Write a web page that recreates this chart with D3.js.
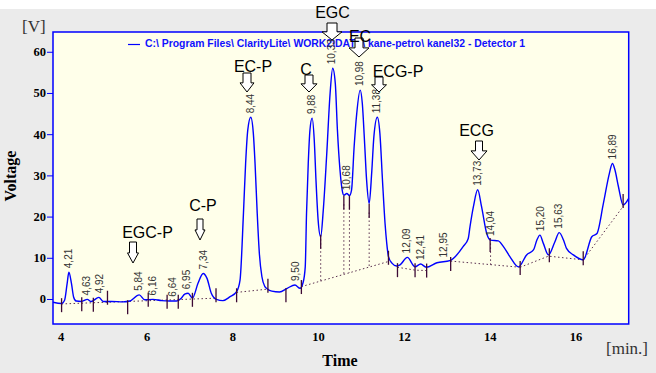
<html>
<head>
<script src="https://cdnjs.cloudflare.com/ajax/libs/d3/7.8.5/d3.min.js"></script>
<style>
  body { margin: 0; background: #ebebeb; }
  svg { display: block; }
</style>
</head>
<body>
<svg id="chart" width="656" height="373"></svg>
<script>
// detector trace: time [min] and signal [V]
var traceTime = [3.82, 4.02, 4.09, 4.15, 4.19, 4.25, 4.30, 4.36, 4.48, 4.62, 4.71, 4.89, 4.99, 5.18, 5.45, 5.61, 5.83, 5.96,
  6.15, 6.35, 6.54, 6.70, 6.81, 6.89, 6.97, 7.07, 7.20, 7.32, 7.41, 7.51, 7.63, 7.78, 7.94, 8.10, 8.18, 8.26, 8.31, 8.36,
  8.43, 8.49, 8.53, 8.58, 8.63, 8.69, 8.76, 8.81, 8.92, 9.10, 9.28, 9.46, 9.58, 9.65, 9.70, 9.73, 9.77, 9.81, 9.86, 9.91,
  9.95, 10.00, 10.06, 10.12, 10.20, 10.28, 10.34, 10.40, 10.45, 10.51, 10.56, 10.60, 10.67, 10.73, 10.78, 10.84, 10.90,
  10.98, 11.03, 11.08, 11.13, 11.19, 11.25, 11.30, 11.38, 11.44, 11.50, 11.56, 11.60, 11.64, 11.72, 11.83, 11.91, 12.08,
  12.26, 12.39, 12.52, 12.77, 13.07, 13.38, 13.50, 13.54, 13.62, 13.72, 13.81, 13.93, 14.02, 14.20, 14.32, 14.47, 14.67,
  14.86, 15.02, 15.10, 15.17, 15.25, 15.37, 15.52, 15.62, 15.72, 15.79, 15.95, 16.18, 16.38, 16.50, 16.65, 16.79, 16.86,
  16.92, 17.00, 17.11, 17.24];
var traceVolt = [-0.8, -1.1, -0.3, 3.8, 6.5, 3.8, 0.5, -0.5, -0.6, -0.1, -0.6, 0.4, -0.6, -0.6, -0.7, -0.5, 1.0, -0.2,
  -0.1, -0.4, -0.5, -0.5, 0.2, 1.2, 1.4, 0.2, 3.8, 6.2, 5.0, 1.4, -0.1, -0.4, 0.5, 1.8, 4.6, 20.9, 32.9, 41.0,
  44.1, 40.2, 32.9, 20.9, 11.1, 5.4, 3.0, 2.5, 1.9, 1.7, 2.6, 3.4, 2.6, 4.0, 7.8, 20.8, 32.9, 41.0, 43.9, 38.6,
  28.9, 19.2, 15.1, 21.5, 35.0, 50.0, 56.0, 52.4, 41.0, 31.3, 26.5, 25.2, 25.6, 25.1, 26.5, 37.0, 45.0,
  50.7, 47.5, 38.6, 28.9, 23.2, 30.8, 39.4, 44.1, 40.2, 28.9, 18.4, 13.5, 10.3, 8.7, 8.0, 8.3, 10.1,
  7.8, 8.5, 7.7, 8.8, 9.3, 12.7, 14.7, 17.5, 22.4, 26.5, 22.4, 15.9, 14.3, 14.1, 12.7, 10.3, 7.8,
  10.7, 11.9, 14.3, 15.5, 13.5, 10.7, 13.9, 16.1, 14.3, 12.3, 10.7, 9.5, 15.1, 15.9, 23.2, 30.5, 32.9,
  31.3, 27.3, 22.8, 24.4];

// integrated peaks: retention time and apex height
var peakTimes = [4.21, 4.63, 4.92, 5.84, 6.16, 6.64, 6.95, 7.34, 8.44, 9.50, 9.88, 10.33, 10.68, 10.98, 11.38,
  12.09, 12.41, 12.95, 13.73, 14.04, 15.20, 15.63, 16.89];
var peakHeights = [6.5, -0.1, 0.4, 1.0, -0.1, -0.4, 1.4, 6.2, 44.1, 3.4, 43.9, 56.0, 25.4, 50.7, 44.1,
  10.1, 8.5, 9.1, 26.5, 14.3, 15.5, 16.1, 32.9];

// peak start / end marks
var markTimes = [4.02, 4.49, 4.76, 5.09, 5.56, 6.04, 6.48, 6.74, 7.07, 7.62, 8.10, 8.83, 9.25, 9.61, 10.06, 10.60, 10.73,
  11.19, 11.64, 11.85, 12.26, 12.53, 13.09, 14.01, 14.71, 15.39, 16.18, 17.11];
var markVolts = [-1.5, -1.3, -1.4, 0.3, -2.0, -0.2, -0.7, -0.7, -0.2, 0.9, 0.9, 3.2, 0.9, 2.9, 13.9, 23.4, 23.4,
  21.4, 10.0, 7.0, 7.0, 6.9, 8.5, 13.1, 7.5, 10.6, 9.9, 23.8];

// baseline pieces
var baselines = [
  [[4.02, -1.2], [5.56, -0.6], [7.62, 0.2]],
  [[8.10, 1.6], [8.83, 2.4]],
  [[9.61, 3.0], [11.64, 9.1]],
  [[11.85, 7.7], [12.26, 7.0], [12.53, 6.9]],
  [[13.09, 9.2], [14.71, 7.7]],
  [[14.71, 7.7], [15.37, 10.4], [16.18, 9.5], [17.12, 22.6]]
];
// drop lines: time, top, bottom
var drops = [[10.06, 14.5, 4.3], [10.60, 23.0, 6.0], [10.73, 23.0, 6.4], [11.19, 21.0, 7.7], [14.02, 13.5, 8.3]];

var compounds = ["EGC-P", "C-P", "EC-P", "C", "EGC", "EC", "ECG-P", "ECG"];

var xTicks = [4, 6, 8, 10, 12, 14, 16];
var yTicks = [0, 10, 20, 30, 40, 50, 60];

var legendText = "C:\\ Program Files\\ ClarityLite\\ WORK2\\DATA\\ kane-petro\\ kanel32 - Detector 1";

// ---- layout ----
var L = 53, R = 628.7, T = 32, B = 324;
// label text (x, baseline) and arrow (cx, top, bottom, shaft w, head w)
var compoundPos = {
  "EGC-P": [147.5, 238, 133, 242, 263, 7, 11],
  "C-P":   [203, 211, 200, 219, 240, 6, 10],
  "EC-P":  [253, 71.5, 247, 73, 92, 8, 14],
  "C":     [306, 75, 309, 75, 92, 8, 16],
  "EGC":   [332.5, 18, 332, 23, 40, 10, 20],
  "EC":    [360, 41.5, 359, 38, 57, 8, 20],
  "ECG-P": [398, 77, 379, 77, 92, 8, 15],
  "ECG":   [476.5, 136, 479, 141, 160, 7, 16]
};

var svg = d3.select("#chart");
var x = d3.scaleLinear().domain([3.82, 17.24]).range([L, R]);
var y = d3.scaleLinear().domain([-6.07, 64.8]).range([B, T]);

svg.append("rect").attr("width", 656).attr("height", 9).attr("fill", "#ffffff");
svg.append("rect").attr("x", L).attr("y", T).attr("width", R - L).attr("height", B - T).attr("fill", "#ffffea");

// legend
svg.append("line").attr("x1", 128).attr("x2", 140).attr("y1", 44.5).attr("y2", 44.5)
  .attr("stroke", "#0000ff").attr("stroke-width", 1.2);
svg.append("text").attr("x", 145).attr("y", 46.5).text(legendText)
  .style("font-family", "Liberation Sans, Arial, sans-serif").style("font-weight", "bold")
  .style("font-size", "10.4px").attr("fill", "#1010ff");

var markColor = "#3d0a35";

// baselines and drop lines
var bl = d3.line().x(d => x(d[0])).y(d => y(d[1]));
svg.selectAll(".base").data(baselines).enter().append("path")
  .attr("d", bl).attr("fill", "none").attr("stroke", "#5a3050")
  .attr("stroke-width", 1).attr("stroke-dasharray", "1.5,2.5");
svg.selectAll(".drop").data(drops).enter().append("line")
  .attr("x1", d => x(d[0])).attr("x2", d => x(d[0]))
  .attr("y1", d => y(d[1])).attr("y2", d => y(d[2]))
  .attr("stroke", "#5a3050").attr("stroke-width", 1).attr("stroke-dasharray", "1.5,2.5");

// trace
var trace = traceTime.map((t, i) => [t, traceVolt[i]]);
svg.append("path").datum(trace)
  .attr("d", d3.line().x(d => x(d[0])).y(d => y(d[1])).curve(d3.curveMonotoneX))
  .attr("fill", "none").attr("stroke", "#0000ff").attr("stroke-width", 1.4);

// marks
svg.selectAll(".mark").data(markTimes).enter().append("line")
  .attr("x1", d => x(d)).attr("x2", d => x(d))
  .attr("y1", (d, i) => y(markVolts[i]) - 7).attr("y2", (d, i) => y(markVolts[i]) + 7)
  .attr("stroke", markColor).attr("stroke-width", 1.3);

// retention time labels
svg.selectAll(".rt").data(peakTimes).enter().append("text")
  .attr("transform", (d, i) => "translate(" + (x(d) + 2.5) + "," + (y(peakHeights[i]) - 4) + ") rotate(-90)")
  .text(d => d.toFixed(2).replace(".", ","))
  .style("font-family", "Liberation Sans, Arial, sans-serif").style("font-size", "10px").attr("fill", "#333");

// frame
svg.append("rect").attr("x", L).attr("y", T).attr("width", R - L).attr("height", B - T)
  .attr("fill", "none").attr("stroke", "#0000ff").attr("stroke-width", 1.5);

// axes
var serif = "Liberation Serif, Times New Roman, serif";
var ya = svg.append("g").attr("transform", "translate(" + L + ",0)")
  .call(d3.axisLeft(y).tickValues(yTicks).tickSize(6).tickPadding(1));
ya.select(".domain").remove();
ya.selectAll("line").attr("stroke", "#0000ff");
ya.selectAll("text").style("font-family", serif).style("font-weight", "bold").style("font-size", "12.5px").attr("fill", "#000");

var xa = svg.append("g").attr("transform", "translate(0," + B + ")")
  .call(d3.axisBottom(x).tickValues(xTicks).tickSize(0).tickPadding(8));
xa.select(".domain").remove();
xa.selectAll("text").style("font-family", serif).style("font-weight", "bold").style("font-size", "12.5px").attr("fill", "#000");

svg.append("text").attr("x", 22).attr("y", 32).text("[V]")
  .style("font-family", serif).style("font-size", "17px").attr("fill", "#333");
svg.append("text").attr("x", 606).attr("y", 354).text("[min.]")
  .style("font-family", serif).style("font-size", "17px").attr("fill", "#333");
svg.append("text").attr("x", 340).attr("y", 366).attr("text-anchor", "middle").text("Time")
  .style("font-family", serif).style("font-weight", "bold").style("font-size", "16px");
svg.append("text").attr("transform", "translate(16,176) rotate(-90)").attr("text-anchor", "middle").text("Voltage")
  .style("font-family", serif).style("font-weight", "bold").style("font-size", "16px");

// compound annotations with hollow arrows
compounds.forEach(function (name) {
  var p = compoundPos[name];
  var cx = p[2], top = p[3], bot = p[4], sw = p[5] / 2, hw = p[6] / 2;
  var mid = top + (bot - top) * 0.52;
  var pts = [[cx - sw, top], [cx + sw, top], [cx + sw, mid], [cx + hw, mid], [cx, bot], [cx - hw, mid], [cx - sw, mid]];
  svg.append("polygon").attr("points", pts.map(q => q.join(",")).join(" "))
    .attr("fill", "#ffffff").attr("stroke", "#000").attr("stroke-width", 1);
  svg.append("text").attr("x", p[0]).attr("y", p[1]).attr("text-anchor", "middle").text(name)
    .style("font-family", "Liberation Sans, Arial, sans-serif").style("font-size", "16px").attr("fill", "#000");
});
</script>
</body>
</html>
